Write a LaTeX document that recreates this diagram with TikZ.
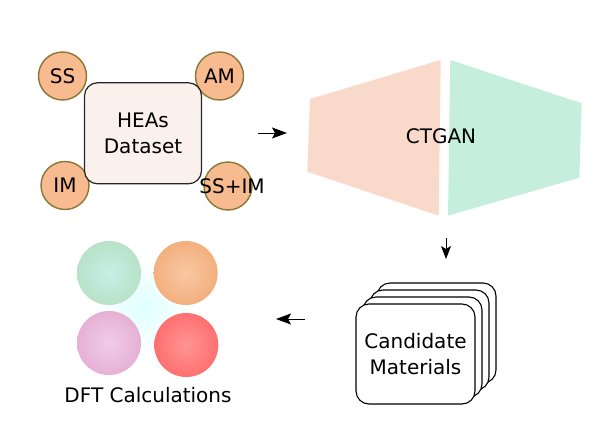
\documentclass[tikz,border=0pt]{standalone}
\usepackage{fontspec}
\setmainfont{DejaVu Sans}
\usetikzlibrary{arrows.meta, positioning}

\definecolor{datafill}{HTML}{FBF1EC}
\definecolor{classfill}{HTML}{F8BB8F}
\definecolor{classdraw}{HTML}{8A7636}
\definecolor{ganleft}{HTML}{F8D9CA}
\definecolor{ganright}{HTML}{C5EEDC}
\definecolor{greenin}{HTML}{C6EFE6}
\definecolor{greenout}{HTML}{B8E2C8}
\definecolor{orangein}{HTML}{F8C8A2}
\definecolor{orangeout}{HTML}{F3AF7F}
\definecolor{pinkin}{HTML}{F0CDE8}
\definecolor{pinkout}{HTML}{E6B0D4}
\definecolor{redin}{HTML}{FF9494}
\definecolor{redout}{HTML}{FF7070}

\begin{document}
\begin{tikzpicture}[x=1pt, y=-1pt, every node/.style={font=\fontsize{20}{26}\selectfont, align=center}]
    \useasboundingbox (0,0) rectangle (601,428);

    % dataset and its classes
    \node[circle, minimum size=48pt, fill=classfill, draw=classdraw, line width=1.4pt] (ss) at (62.5,76) {};
    \node[circle, minimum size=48pt, fill=classfill, draw=classdraw, line width=1.4pt] (am) at (219.5,76) {};
    \node[circle, minimum size=48pt, fill=classfill, draw=classdraw, line width=1.4pt] (im) at (65,185.5) {};
    \node[circle, minimum size=48pt, fill=classfill, draw=classdraw, line width=1.4pt] (ssim) at (228,186) {};
    \node[rectangle, rounded corners=13pt, minimum width=117pt, minimum height=101pt, fill=datafill, draw=black!85, line width=1.2pt] (heas) at (143,133.3) {HEAs\\Dataset};
    \node (sslabel) at (ss) {SS};
    \node (amlabel) at (am) {AM};
    \node (imlabel) at (im) {IM};
    \node (ssimlabel) at (232,186) {SS+IM};

    \coordinate (a1s) at (258,133);
    \coordinate (a1e) at (287,133);
    \draw[-{Stealth[length=15pt, width=11pt, inset=3pt]}, line width=1pt] (a1s) -- (a1e);

    % generator
    \fill[ganleft] (310,99) -- (440.7,60) -- (438.7,215.7) -- (307.3,171.7) -- cycle;
    \fill[ganright] (450.3,60) -- (581.7,103.3) -- (579.3,177.7) -- (448,215.7) -- cycle;
    \node (ctgan) at (441,136) {CTGAN};

    \coordinate (a2s) at (446,238);
    \coordinate (a2e) at (446,259);
    \draw[-{Stealth[length=13pt, width=10pt, inset=3pt]}, line width=1pt] (a2s) -- (a2e);

    % candidates
    \foreach \k in {3,2,1}
        \node[rectangle, rounded corners=13pt, minimum width=119pt, minimum height=100pt, fill=white, draw=black, line width=1.1pt] (back\k) at (415.5+7*\k,354-7*\k) {};
    \node[rectangle, rounded corners=13pt, minimum width=119pt, minimum height=100pt, fill=white, draw=black, line width=1.1pt] (cand) at (415.5,354) {Candidate\\Materials};

    \coordinate (a3s) at (305,319);
    \coordinate (a3e) at (276,319);
    \draw[-{Stealth[length=15pt, width=11pt, inset=3pt]}, line width=1pt] (a3s) -- (a3e);

    % DFT
    \shade[inner color=cyan!13, outer color=white] (143,307) circle (48);
    \shade[inner color=greenin, outer color=greenout] (109,273) circle (32);
    \shade[inner color=orangein, outer color=orangeout] (185.7,273) circle (32);
    \shade[inner color=pinkin, outer color=pinkout] (109,343) circle (32);
    \shade[inner color=redin, outer color=redout] (186.3,345) circle (32);
    \node (dft) at (148,395) {DFT Calculations};
\end{tikzpicture}
\end{document}
